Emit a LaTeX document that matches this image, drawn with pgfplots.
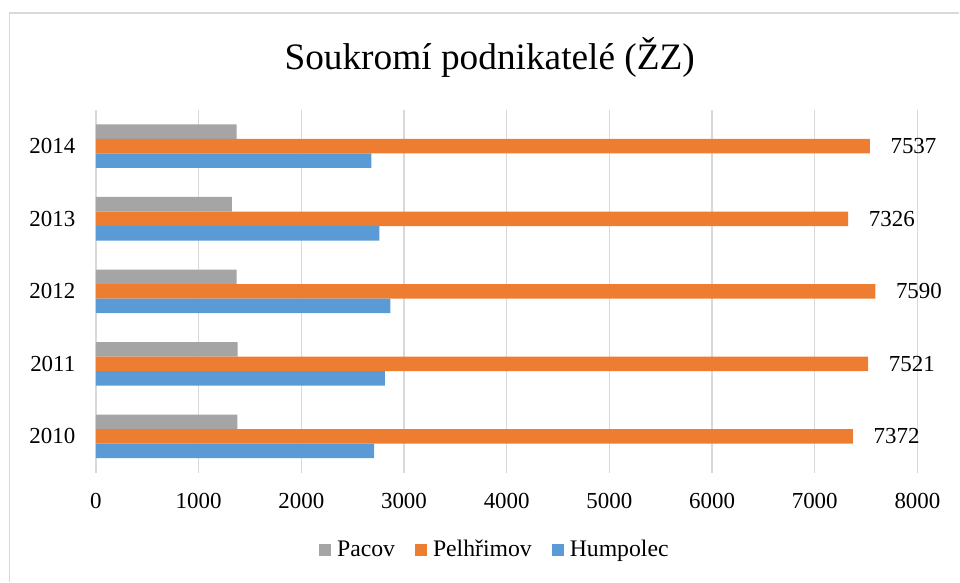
\documentclass[border=0pt]{standalone}
\usepackage{pgfplots}
\pgfplotsset{compat=1.18}
\usepackage{fontspec}
\setmainfont{Liberation Serif}
\definecolor{cgray}{HTML}{A5A5A5}
\definecolor{corange}{HTML}{ED7D31}
\definecolor{cblue}{HTML}{5B9BD5}
\definecolor{cgrid}{HTML}{D9D9D9}
\begin{document}
\begin{tikzpicture}
\path (0pt,0pt) rectangle (720pt,436.5pt);
\draw[cgrid, line width=0.9pt] (7.2pt,0pt) -- (7.2pt,426.75pt) -- (720pt,426.75pt);
\node[font=\fontsize{28}{32}\selectfont] at (367.5pt,393.75pt) {Soukromí podnikatelé (ŽZ)};
\begin{axis}[
  at={(72pt,81.75pt)}, anchor=south west,
  scale only axis,
  width=616.5pt, height=272.25pt,
  xbar, bar width=0.2,
  xmin=0, xmax=8000,
  ymin=-0.5, ymax=4.5,
  ytick={0,1,2,3,4},
  yticklabels={2010,2011,2012,2013,2014},
  xtick={0,1000,...,8000},
  axis line style={draw=none},
  major tick length=0pt,
  xmajorgrids, grid style={cgrid, line width=1pt},
  tick label style={font=\fontsize{17.2}{20}\selectfont},
  /pgf/number format/assume math mode=true,
  /pgf/number format/1000 sep={},
  xticklabel style={yshift=-12pt},
  yticklabel style={xshift=-12pt},
  legend columns=3,
  legend style={draw=none, fill=none, at={(0.486,-0.212)}, anchor=center,
    font=\fontsize{17.8}{20}\selectfont,
    /tikz/every odd column/.append style={column sep=2.5pt},
    /tikz/every even column/.append style={column sep=13pt}},
  legend image code/.code={\fill[#1,draw=none] (-4pt,-4.5pt) rectangle (5pt,4.5pt);},
]
\addplot[fill=cgray, draw=none, bar shift=0.2] coordinates {(1377,0) (1380,1) (1370,2) (1325,3) (1370,4)};
\addlegendentry{Pacov}
\addplot[fill=corange, draw=none, bar shift=0,
  nodes near coords, nodes near coords align={horizontal},
  every node near coord/.append style={font=\fontsize{17.2}{20}\selectfont, text=black, anchor=west, xshift=12pt,
   /pgf/number format/assume math mode=true, /pgf/number format/1000 sep={}}] coordinates {(7372,0) (7521,1) (7590,2) (7326,3) (7537,4)};
\addlegendentry{Pelhřimov}
\addplot[fill=cblue, draw=none, bar shift=-0.2] coordinates {(2710,0) (2813,1) (2868,2) (2761,3) (2683,4)};
\addlegendentry{Humpolec}
\end{axis}
\end{tikzpicture}
\end{document}
